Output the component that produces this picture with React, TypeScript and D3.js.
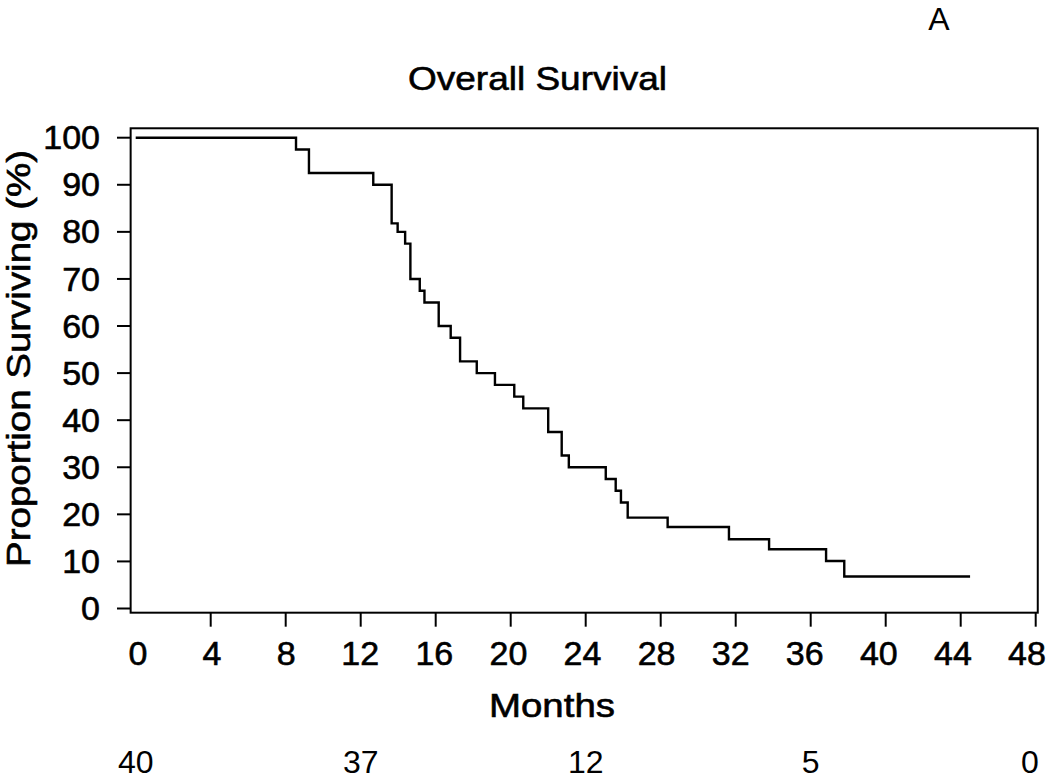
import React from "react";
import * as d3 from "d3";

// Kaplan-Meier step data (months, % surviving after the event)
const eventTimes: number[] = [8.55, 9.24, 12.67, 13.65, 13.97, 14.37, 14.65, 15.15, 15.4, 16.16, 16.8, 17.3, 18.19, 19.16, 20.19, 20.67, 22.0, 22.72, 23.1, 25.07, 25.6, 25.88, 26.24, 28.37, 31.64, 33.78, 36.82, 37.79];
const survivalAfter: number[] = [97.5, 92.5, 90, 81.8, 80, 77.5, 70, 67.5, 65, 60, 57.5, 52.5, 50, 47.5, 45, 42.5, 37.5, 32.5, 30, 27.5, 25, 22.5, 19.3, 17.3, 14.7, 12.6, 10.1, 6.8];
const lastFollowUp = 44.5;

const xTicks: number[] = [0, 4, 8, 12, 16, 20, 24, 28, 32, 36, 40, 44, 48];
const yTicks: number[] = [0, 10, 20, 30, 40, 50, 60, 70, 80, 90, 100];
const atRiskTimes: number[] = [0, 12, 24, 36, 48];
const atRiskCounts: number[] = [40, 37, 12, 5, 0];

const W = 1050;
const H = 781;
const FONT = "'Liberation Sans', Arial, Helvetica, sans-serif";

export default function App() {
  const x = d3.scaleLinear().domain([0, 48]).range([135.7, 1035.7]);
  const xLab = d3.scaleLinear().domain([0, 48]).range([138, 1027]);
  const y = d3.scaleLinear().domain([0, 100]).range([608.5, 137.7]);

  const boxL = x(-0.27);
  const boxR = x(48.11);
  const boxT = y(102);
  const boxB = y(-0.89);

  const pts: [number, number][] = [[0, 100]];
  eventTimes.forEach((t, i) => pts.push([t, survivalAfter[i]]));
  pts.push([lastFollowUp, survivalAfter[survivalAfter.length - 1]]);
  const line = d3
    .line<[number, number]>()
    .x((d) => x(d[0]))
    .y((d) => y(d[1]))
    .curve(d3.curveStepAfter);

  const medium = { stroke: "#000", strokeWidth: 0.6 } as const;

  return (
    <svg
      width={W}
      height={H}
      style={{ position: "absolute", left: 0, top: 0, background: "#fff" }}
      fontFamily={FONT}
    >
      <rect x={0} y={0} width={W} height={H} fill="#fff" />
      <text x={939} y={30} fontSize={32} textAnchor="middle" fill="#000">
        A
      </text>
      <text x={537.5} y={90} fontSize={34} textAnchor="middle" fill="#000" textLength={259} lengthAdjust="spacingAndGlyphs" {...medium}>
        Overall Survival
      </text>

      <rect x={boxL} y={boxT} width={boxR - boxL} height={boxB - boxT} fill="none" stroke="#000" strokeWidth={2} />

      {yTicks.map((v) => (
        <g key={"y" + v}>
          <line x1={117} x2={boxL} y1={y(v)} y2={y(v)} stroke="#000" strokeWidth={2} />
          <text x={100} y={y(v) + 11.6} fontSize={34} textAnchor="end" fill="#000" {...medium}>
            {v}
          </text>
        </g>
      ))}

      {xTicks.map((v) => (
        <g key={"x" + v}>
          {v > 0 && <line x1={x(v)} x2={x(v)} y1={boxB} y2={boxB + 14} stroke="#000" strokeWidth={2} />}
          <text x={xLab(v)} y={665} fontSize={34} textAnchor="middle" fill="#000" {...medium}>
            {v}
          </text>
        </g>
      ))}

      <text x={552} y={717} fontSize={34} textAnchor="middle" fill="#000" textLength={126} lengthAdjust="spacingAndGlyphs" {...medium}>
        Months
      </text>
      <text
        transform={`translate(30,358.5) rotate(-90)`}
        fontSize={33}
        textAnchor="middle"
        fill="#000"
        textLength={417}
        lengthAdjust="spacingAndGlyphs"
        {...medium}
      >
        Proportion Surviving (%)
      </text>

      <path d={line(pts) || ""} fill="none" stroke="#000" strokeWidth={2.4} />

      {atRiskTimes.map((t, i) => (
        <text key={"r" + t} x={Math.min(x(t), 1030)} y={773} fontSize={32} textAnchor="middle" fill="#000">
          {atRiskCounts[i]}
        </text>
      ))}
    </svg>
  );
}
